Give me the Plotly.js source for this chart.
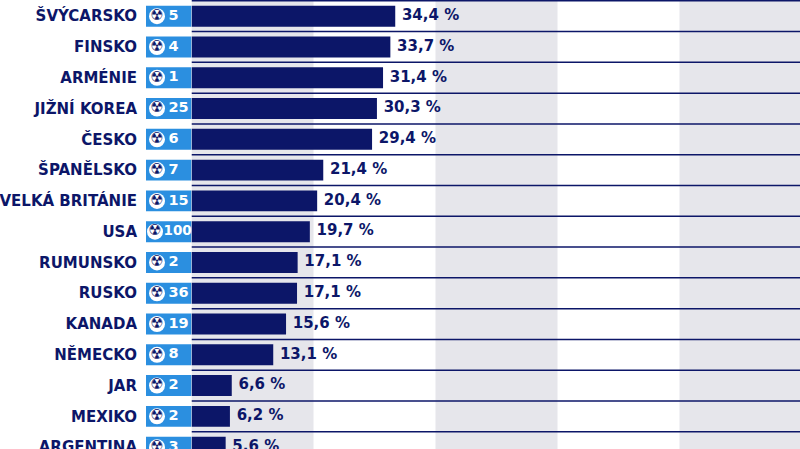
<!DOCTYPE html>
<html><head><meta charset="utf-8">
<script src="https://cdn.plot.ly/plotly-3.0.1.min.js"></script>
<style>html,body{margin:0;padding:0;background:#fff}#c{width:800px;height:449px}</style></head>
<body><div id="c"></div>
<script>
const countries = ["ŠVÝCARSKO","FINSKO","ARMÉNIE","JIŽNÍ KOREA","ČESKO","ŠPANĚLSKO","VELKÁ BRITÁNIE","USA","RUMUNSKO","RUSKO","KANADA","NĚMECKO","JAR","MEXIKO","ARGENTINA"];
const reactors = [5,4,1,25,6,7,15,100,2,36,19,8,2,2,3];
const shareLabels = ["34,4 %","33,7 %","31,4 %","30,3 %","29,4 %","21,4 %","20,4 %","19,7 %","17,1 %","17,1 %","15,6 %","13,1 %","6,6 %","6,2 %","5,6 %"];
// bar lengths as drawn in the picture (they differ slightly from the printed labels)
const barLengths = [33.4,32.6,31.4,30.4,29.6,21.6,20.6,19.4,17.4,17.3,15.5,13.4,6.6,6.3,5.6];

const NAVY="#0c1668", BLUE="#2b8fe0", BAND="#e6e6eb";
const font={family:"DejaVu Sans",size:15,color:NAVY,weight:700};
const cellW=45.5;
const wide=v=>v>=100;
const traces=[
 {type:"bar",orientation:"h",x:barLengths,y:countries,marker:{color:NAVY},hoverinfo:"skip",xaxis:"x",yaxis:"y"},
 {type:"scatter",mode:"text",x:barLengths.map(v=>v+1.1),y:countries,text:shareLabels,textposition:"middle right",
  textfont:{family:"DejaVu Sans",size:15,color:NAVY,weight:700},cliponaxis:false,hoverinfo:"skip",xaxis:"x",yaxis:"y"},
 {type:"bar",orientation:"h",x:countries.map(()=>cellW),y:countries,marker:{color:BLUE},hoverinfo:"skip",xaxis:"x2",yaxis:"y"},
 {type:"scatter",mode:"markers+text",x:reactors.map(v=>wide(v)?9:11),y:countries,text:countries.map(()=>"☢"),textposition:"middle center",
  marker:{color:"#fff",size:16},textfont:{family:"DejaVu Sans",size:15,color:NAVY},cliponaxis:false,hoverinfo:"skip",xaxis:"x2",yaxis:"y"},
 {type:"scatter",mode:"text",x:reactors.map(v=>wide(v)?17.5:22.5),y:countries,text:reactors.map(String),textposition:"middle right",
  textfont:{family:"DejaVu Sans",size:reactors.map(v=>wide(v)?13.5:14.5),color:"#fff",weight:700},cliponaxis:false,hoverinfo:"skip",xaxis:"x2",yaxis:"y"}
];
const shapes=[];
[[0,20],[40,60],[80,100]].forEach(b=>shapes.push({type:"rect",xref:"x",yref:"paper",x0:b[0],x1:b[1],y0:0,y1:1,fillcolor:BAND,line:{width:0},layer:"below"}));
for(let i=-1;i<countries.length;i++)shapes.push({type:"line",xref:"x",yref:"y",x0:0,x1:100,y0:i+0.5,y1:i+0.5,line:{color:NAVY,width:1.5},layer:"below"});
const layout={
 width:800,height:449,margin:{l:0,r:0,t:0,b:0,pad:0},paper_bgcolor:"#fff",plot_bgcolor:"rgba(0,0,0,0)",showlegend:false,
 bargap:0.32,shapes:shapes,font:font,
 xaxis:{domain:[191.5/800,1],range:[0,608.5/6.1],visible:false,fixedrange:true},
 xaxis2:{domain:[146/800,191.5/800],range:[0,cellW],visible:false,anchor:"y",fixedrange:true},
 yaxis:{type:"category",categoryorder:"array",categoryarray:countries,anchor:"x2",range:[14.06,-0.526],
  showgrid:false,zeroline:false,showline:false,ticks:"",ticklabelstandoff:8,tickfont:font,fixedrange:true,automargin:false}
};
Plotly.newPlot("c",traces,layout,{displayModeBar:false,staticPlot:true});
</script></body></html>
